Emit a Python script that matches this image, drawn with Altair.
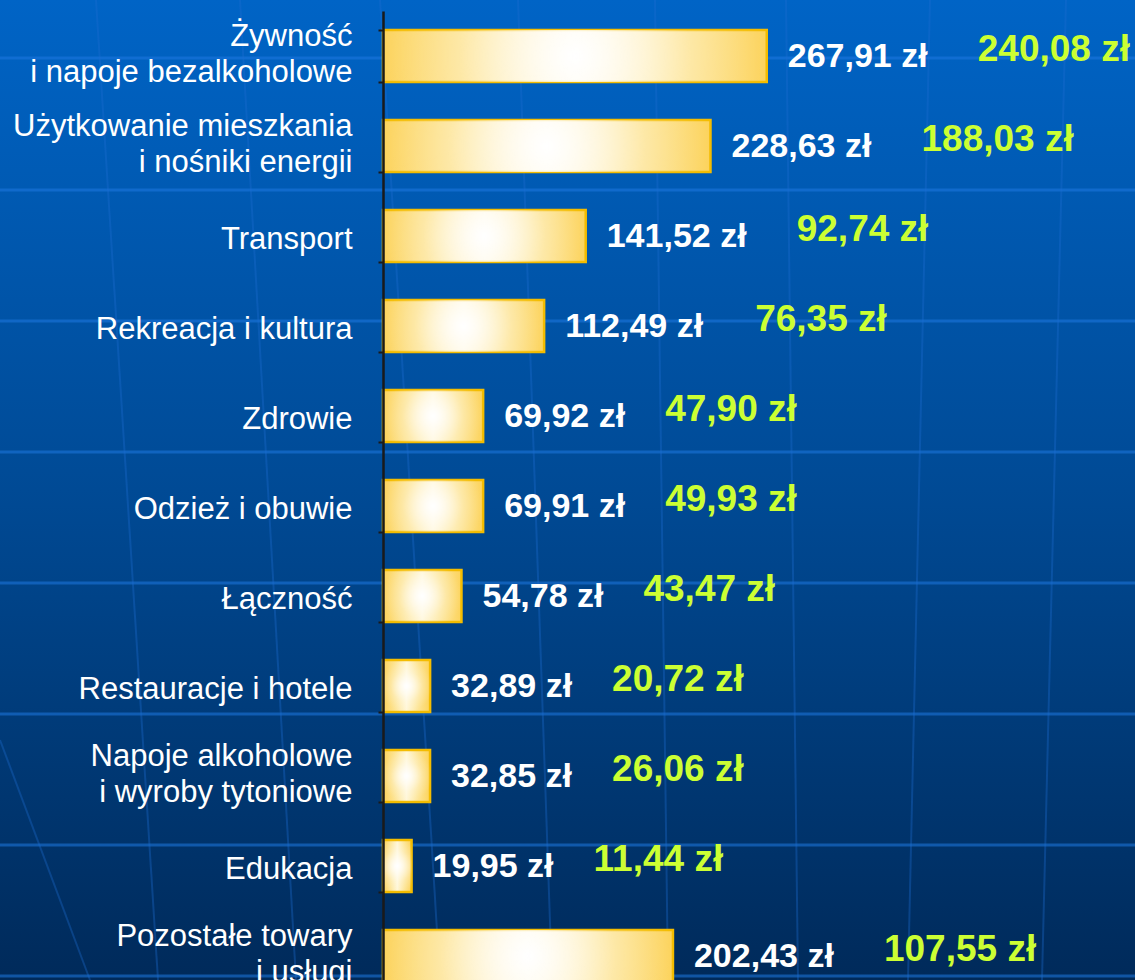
import altair as alt
import pandas as pd

# Monthly household spending per person, by category (zł)
categories = [
    "Żywność|i napoje bezalkoholowe",
    "Użytkowanie mieszkania|i nośniki energii",
    "Transport",
    "Rekreacja i kultura",
    "Zdrowie",
    "Odzież i obuwie",
    "Łączność",
    "Restauracje i hotele",
    "Napoje alkoholowe|i wyroby tytoniowe",
    "Edukacja",
    "Pozostałe towary|i usługi",
]
spending = [267.91, 228.63, 141.52, 112.49, 69.92, 69.91, 54.78, 32.89, 32.85, 19.95, 202.43]
spending_other = [240.08, 188.03, 92.74, 76.35, 47.90, 49.93, 43.47, 20.72, 26.06, 11.44, 107.55]


def zl(v):
    return f"{v:.2f}".replace(".", ",") + " zł"


df = pd.DataFrame({
    "cat": categories,
    "value": spending,
    "other": spending_other,
    "label": [zl(v) for v in spending],
    "label_other": [zl(v) for v in spending_other],
})

W, H = 752, 969          # plot area (canvas continues past the bottom edge)
LEFT, TOP = 383, 11
BAND_RANGE = [0, 990]    # 11 bands of 90 px; the last one runs off the page

y_enc = alt.Y(
    "cat:N",
    sort=categories,
    scale=alt.Scale(range=BAND_RANGE, paddingInner=0.42, paddingOuter=0.21),
    axis=alt.Axis(
        title=None,
        labelExpr="split(datum.label, '|')",
        labelFont="Liberation Sans",
        labelFontSize=31,
        labelColor="white",
        labelLineHeight=36,
        labelPadding=26,
        labelLimit=0,
        # two-line labels are centred as a block on their band
        labelOffset={
            "condition": {
                "test": "isString(datum.value) && indexof(datum.value, '|') >= 0",
                "value": -20,
            },
            "value": 3,
        },
        tickBand="extent",
        tickSize=5,
        tickColor="#1a1a1a",
        tickWidth=2,
        domainColor="#1a1a1a",
        domainWidth=2.5,
        grid=False,
        zindex=1,
    ),
)
x_enc = alt.X("value:Q", scale=alt.Scale(domain=[0, 525], nice=False, zero=True), axis=None)

one_row = alt.Data(values=[{}])

# Blue backdrop over the whole canvas
backdrop = alt.Chart(one_row).mark_rect(
    fill={
        "gradient": "linear", "x1": 0, "y1": 0, "x2": 0, "y2": 1,
        "stops": [
            {"offset": 0, "color": "#0064C6"},
            {"offset": 0.5, "color": "#004A95"},
            {"offset": 1, "color": "#002A5A"},
        ],
    }
).encode(
    x=alt.value(-LEFT), x2=alt.value(W), y=alt.value(-TOP), y2=alt.value(H)
)

# Globe grid in the backdrop: latitude rows and slanted meridians (pixels)
LATITUDES = [47, 179, 310, 441, 572, 703, 834, 965]
MERIDIANS = [  # (x at top, x at bottom, y at top)
    (-383, -293, 729),
    (-287, -225, -11),
    (-143, -87, -11),
    (-3, 57, -11),
    (135, 169, -11),
    (272, 285, -11),
    (403, 415, -11),
    (547, 525, -11),
    (683, 659, -11),
]
globe = [
    alt.Chart(one_row).mark_rule(color="#1E78E0", opacity=0.55, strokeWidth=3).encode(
        x=alt.value(-LEFT), x2=alt.value(W), y=alt.value(yy)
    )
    for yy in LATITUDES
] + [
    alt.Chart(one_row).mark_rule(color="#1E6ED0", opacity=0.35, strokeWidth=2).encode(
        x=alt.value(xt), x2=alt.value(xb), y=alt.value(yt), y2=alt.value(H)
    )
    for xt, xb, yt in MERIDIANS
]

bars = alt.Chart(df).mark_bar(
    fill={
        "gradient": "linear", "x1": 0, "y1": 0, "x2": 1, "y2": 0,
        "stops": [
            {"offset": 0, "color": "#FCD35C"},
            {"offset": 0.25, "color": "#FDE494"},
            {"offset": 0.5, "color": "#FFF6D6"},
            {"offset": 0.75, "color": "#FDE494"},
            {"offset": 1, "color": "#FCD35C"},
        ],
    },
    stroke="#F4BC00",
    strokeWidth=2.5,
).encode(x=x_enc, y=y_enc)

glow = alt.Chart(df).mark_bar(
    fill={
        "gradient": "radial", "x1": 0.5, "y1": 0.5, "r1": 0, "x2": 0.5, "y2": 0.5, "r2": 0.5,
        "stops": [
            {"offset": 0, "color": "rgba(255,255,255,1)"},
            {"offset": 0.6, "color": "rgba(255,255,255,0.25)"},
            {"offset": 1, "color": "rgba(255,255,255,0)"},
        ],
    },
    strokeWidth=0,
).encode(x=x_enc, y=y_enc)

value_text = alt.Chart(df).mark_text(
    align="left", baseline="middle", dx=21, dy=1,
    font="Liberation Sans", fontWeight="bold", fontSize=34, color="white",
).encode(x=x_enc, y=y_enc, text="label:N")

other_style = dict(
    align="left", baseline="middle", dy=-6,
    font="Liberation Sans", fontWeight="bold", fontSize=37, color="#CCFF33",
)
other_long = alt.Chart(df).transform_filter("datum.value >= 100").mark_text(
    dx=211, **other_style
).encode(x=x_enc, y=y_enc, text="label_other:N")
other_short = alt.Chart(df).transform_filter("datum.value < 100").mark_text(
    dx=182, **other_style
).encode(x=x_enc, y=y_enc, text="label_other:N")

chart = alt.layer(
    backdrop, *globe, bars, glow, value_text, other_long, other_short
).properties(
    width=W,
    height=H,
    autosize=alt.AutoSizeParams(type="none"),
    padding={"left": LEFT, "top": TOP, "right": 0, "bottom": 0},
    background="#002A5A",
).configure_view(stroke=None)

chart.save("out.html", embed_options={"renderer": "svg", "actions": False})
